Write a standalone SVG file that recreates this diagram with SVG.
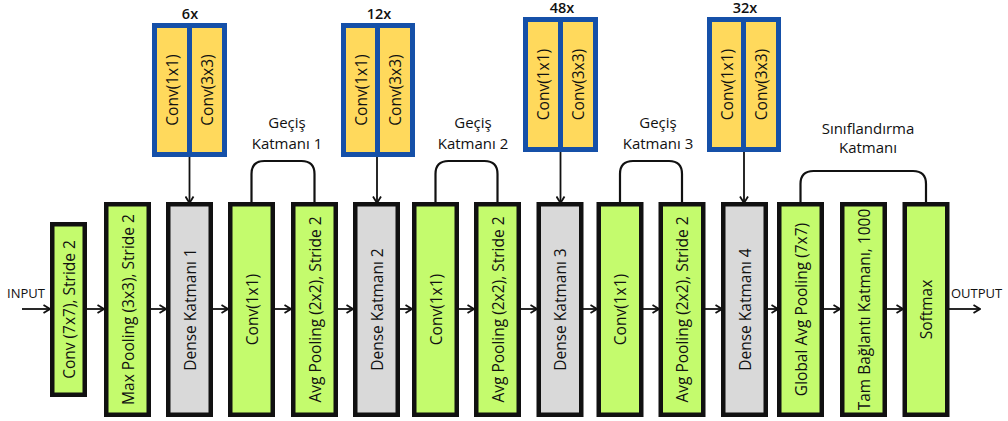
<svg xmlns="http://www.w3.org/2000/svg" width="1008" height="421" viewBox="0 0 1008 421">
  <defs>
    <marker id="arrow" viewBox="0 0 8 10" refX="7.5" refY="5" markerWidth="8" markerHeight="10" markerUnits="userSpaceOnUse" orient="auto">
      <path d="M1,1 L7.5,5 L1,9" fill="none" stroke="#111" stroke-width="1.8"/>
    </marker>
    <style>
      .layer { stroke: #111; stroke-width: 4.5; }
      .green { fill: #c4fb6d; }
      .gray { fill: #d9d9d9; }
      .blue { fill: #1550a8; }
      .yellow { fill: #ffd95c; }
      .lbl { font-family: "Open Sans", "Noto Sans", sans-serif; font-size: 15.5px; font-weight: 500; fill: #111; text-anchor: middle; dominant-baseline: central; }
      .cap { font-family: "Open Sans", "Noto Sans", sans-serif; font-size: 15px; font-weight: 500; fill: #111; text-anchor: middle; }
      .rep { font-family: "Open Sans", "Noto Sans", sans-serif; font-size: 14.5px; font-weight: 600; fill: #111; text-anchor: middle; }
      .io { font-family: "Open Sans", "Noto Sans", sans-serif; font-size: 13px; font-weight: 500; fill: #111; }
      .link { fill: none; stroke: #111; stroke-width: 1.8; }
      .loop { fill: none; stroke: #111; stroke-width: 2.2; }
    </style>
  </defs>

  <rect width="1008" height="421" fill="#ffffff"/>

  <!-- connectors -->
  <g id="connectors">
    <line class="link" x1="22" y1="309" x2="50" y2="309" marker-end="url(#arrow)"/>
    <line class="link" x1="87" y1="309" x2="104" y2="309" marker-end="url(#arrow)"/>
    <line class="link" x1="151" y1="309" x2="166" y2="309" marker-end="url(#arrow)"/>
    <line class="link" x1="213" y1="309" x2="228" y2="309" marker-end="url(#arrow)"/>
    <line class="link" x1="275" y1="309" x2="291" y2="309" marker-end="url(#arrow)"/>
    <line class="link" x1="338" y1="309" x2="353" y2="309" marker-end="url(#arrow)"/>
    <line class="link" x1="400" y1="309" x2="412" y2="309" marker-end="url(#arrow)"/>
    <line class="link" x1="459" y1="309" x2="474" y2="309" marker-end="url(#arrow)"/>
    <line class="link" x1="521" y1="309" x2="537" y2="309" marker-end="url(#arrow)"/>
    <line class="link" x1="583" y1="309" x2="597" y2="309" marker-end="url(#arrow)"/>
    <line class="link" x1="643" y1="309" x2="659" y2="309" marker-end="url(#arrow)"/>
    <line class="link" x1="705" y1="309" x2="722" y2="309" marker-end="url(#arrow)"/>
    <line class="link" x1="767" y1="309" x2="778" y2="309" marker-end="url(#arrow)"/>
    <line class="link" x1="823" y1="309" x2="840" y2="309" marker-end="url(#arrow)"/>
    <line class="link" x1="887" y1="309" x2="903" y2="309" marker-end="url(#arrow)"/>
    <line class="link" x1="949" y1="309" x2="980" y2="309" marker-end="url(#arrow)"/>

    <!-- dense block feeds -->
    <line class="link" x1="189.5" y1="157" x2="189.5" y2="203" marker-end="url(#arrow)"/>
    <line class="link" x1="377" y1="157" x2="377" y2="203" marker-end="url(#arrow)"/>
    <line class="link" x1="560.5" y1="152" x2="560.5" y2="203" marker-end="url(#arrow)"/>
    <line class="link" x1="744" y1="152" x2="744" y2="203" marker-end="url(#arrow)"/>

    <!-- grouping brackets -->
    <path class="loop" d="M251.5,202 V174 Q251.5,161 264.5,161 H301.5 Q314.5,161 314.5,174 V202"/>
    <path class="loop" d="M435.5,202 V174 Q435.5,161 448.5,161 H484.5 Q497.5,161 497.5,174 V202"/>
    <path class="loop" d="M620,202 V174 Q620,161 633,161 H669 Q682,161 682,174 V202"/>
    <path class="loop" d="M800.5,202 V184 Q800.5,171 813.5,171 H913 Q926,171 926,184 V202"/>
  </g>

  <!-- input / output -->
  <text class="io" x="7" y="298">INPUT</text>
  <text class="io" x="951" y="298">OUTPUT</text>

  <!-- main layers -->
  <g id="conv7">
    <rect class="layer green" x="52.25" y="224.25" width="32.5" height="170.5"/>
    <text class="lbl" transform="translate(68.5,309.5) rotate(-90)">Conv (7x7), Stride 2</text>
  </g>
  <g id="maxpool">
    <rect class="layer green" x="106.25" y="204.25" width="42.5" height="210.5"/>
    <text class="lbl" transform="translate(127.5,309.5) rotate(-90)">Max Pooling (3x3), Stride 2</text>
  </g>
  <g id="dense1">
    <rect class="layer gray" x="168.25" y="204.25" width="42.5" height="210.5"/>
    <text class="lbl" transform="translate(189.5,309.5) rotate(-90)">Dense Katmanı 1</text>
  </g>
  <g id="trans1-conv">
    <rect class="layer green" x="230.25" y="204.25" width="42.5" height="210.5"/>
    <text class="lbl" transform="translate(251.5,309.5) rotate(-90)">Conv(1x1)</text>
  </g>
  <g id="trans1-pool">
    <rect class="layer green" x="293.25" y="204.25" width="42.5" height="210.5"/>
    <text class="lbl" transform="translate(314.5,309.5) rotate(-90)">Avg Pooling (2x2), Stride 2</text>
  </g>
  <g id="dense2">
    <rect class="layer gray" x="355.25" y="204.25" width="42.5" height="210.5"/>
    <text class="lbl" transform="translate(376.5,309.5) rotate(-90)">Dense Katmanı 2</text>
  </g>
  <g id="trans2-conv">
    <rect class="layer green" x="414.25" y="204.25" width="42.5" height="210.5"/>
    <text class="lbl" transform="translate(435.5,309.5) rotate(-90)">Conv(1x1)</text>
  </g>
  <g id="trans2-pool">
    <rect class="layer green" x="476.25" y="204.25" width="42.5" height="210.5"/>
    <text class="lbl" transform="translate(497.5,309.5) rotate(-90)">Avg Pooling (2x2), Stride 2</text>
  </g>
  <g id="dense3">
    <rect class="layer gray" x="538.75" y="204.25" width="42.5" height="210.5"/>
    <text class="lbl" transform="translate(560,309.5) rotate(-90)">Dense Katmanı 3</text>
  </g>
  <g id="trans3-conv">
    <rect class="layer green" x="598.75" y="204.25" width="42.5" height="210.5"/>
    <text class="lbl" transform="translate(620,309.5) rotate(-90)">Conv(1x1)</text>
  </g>
  <g id="trans3-pool">
    <rect class="layer green" x="660.75" y="204.25" width="42.5" height="210.5"/>
    <text class="lbl" transform="translate(682,309.5) rotate(-90)">Avg Pooling (2x2), Stride 2</text>
  </g>
  <g id="dense4">
    <rect class="layer gray" x="723.25" y="204.25" width="42.5" height="210.5"/>
    <text class="lbl" transform="translate(744.5,309.5) rotate(-90)">Dense Katmanı 4</text>
  </g>
  <g id="global-pool">
    <rect class="layer green" x="779.25" y="204.25" width="42.5" height="210.5"/>
    <text class="lbl" transform="translate(800.5,309.5) rotate(-90)">Global Avg Pooling (7x7)</text>
  </g>
  <g id="fully-connected">
    <rect class="layer green" x="842.25" y="204.25" width="42.5" height="210.5"/>
    <text class="lbl" transform="translate(863.5,309.5) rotate(-90)">Tam Bağlantı Katmanı, 1000</text>
  </g>
  <g id="softmax">
    <rect class="layer green" x="904.75" y="204.25" width="42.5" height="210.5"/>
    <text class="lbl" transform="translate(926,309.5) rotate(-90)">Softmax</text>
  </g>

  <!-- dense block internals -->
  <g id="block6">
    <text class="rep" x="190" y="19">6x</text>
    <rect class="blue" x="152" y="23" width="75" height="134"/>
    <rect class="yellow" x="157" y="28" width="30" height="124"/>
    <rect class="yellow" x="192" y="28" width="30" height="124"/>
    <text class="lbl" transform="translate(172,90) rotate(-90)">Conv(1x1)</text>
    <text class="lbl" transform="translate(207,90) rotate(-90)">Conv(3x3)</text>
  </g>
  <g id="block12">
    <text class="rep" x="379" y="19">12x</text>
    <rect class="blue" x="341" y="23" width="74" height="134"/>
    <rect class="yellow" x="346" y="28" width="29" height="124"/>
    <rect class="yellow" x="380" y="28" width="30" height="124"/>
    <text class="lbl" transform="translate(360.5,90) rotate(-90)">Conv(1x1)</text>
    <text class="lbl" transform="translate(395,90) rotate(-90)">Conv(3x3)</text>
  </g>
  <g id="block48">
    <text class="rep" x="562" y="13">48x</text>
    <rect class="blue" x="523" y="17" width="75" height="135"/>
    <rect class="yellow" x="528" y="22" width="30" height="125"/>
    <rect class="yellow" x="563" y="22" width="30" height="125"/>
    <text class="lbl" transform="translate(543,84.5) rotate(-90)">Conv(1x1)</text>
    <text class="lbl" transform="translate(578,84.5) rotate(-90)">Conv(3x3)</text>
  </g>
  <g id="block32">
    <text class="rep" x="745" y="13">32x</text>
    <rect class="blue" x="707" y="17" width="74" height="135"/>
    <rect class="yellow" x="712" y="22" width="29" height="125"/>
    <rect class="yellow" x="746" y="22" width="30" height="125"/>
    <text class="lbl" transform="translate(726.5,84.5) rotate(-90)">Conv(1x1)</text>
    <text class="lbl" transform="translate(761,84.5) rotate(-90)">Conv(3x3)</text>
  </g>

  <!-- group captions -->
  <g id="caption-trans1">
    <text class="cap" x="287" y="128">Geçiş</text>
    <text class="cap" x="287" y="149">Katmanı 1</text>
  </g>
  <g id="caption-trans2">
    <text class="cap" x="473" y="128">Geçiş</text>
    <text class="cap" x="473" y="149">Katmanı 2</text>
  </g>
  <g id="caption-trans3">
    <text class="cap" x="658" y="128">Geçiş</text>
    <text class="cap" x="658" y="149">Katmanı 3</text>
  </g>
  <g id="caption-classifier">
    <text class="cap" x="868" y="134">Sınıflandırma</text>
    <text class="cap" x="868" y="153">Katmanı</text>
  </g>
</svg>
